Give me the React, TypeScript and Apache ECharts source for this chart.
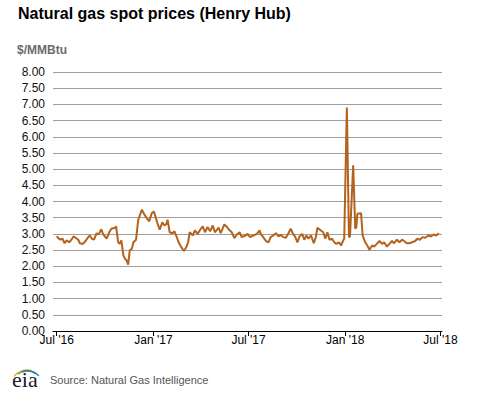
import React, { useEffect, useRef } from "react";
import * as echarts from "echarts";

const dates = [
  "2016-07-01","2016-07-04","2016-07-08","2016-07-12","2016-07-16","2016-07-20","2016-07-25","2016-07-29","2016-08-02","2016-08-06",
  "2016-08-11","2016-08-14","2016-08-20","2016-08-25","2016-08-30","2016-09-02","2016-09-06","2016-09-10","2016-09-15","2016-09-18",
  "2016-09-21","2016-09-24","2016-09-27","2016-10-04","2016-10-09","2016-10-13","2016-10-20","2016-10-22","2016-10-26","2016-10-29",
  "2016-11-01","2016-11-05","2016-11-08","2016-11-11","2016-11-14","2016-11-17","2016-11-21","2016-11-24","2016-11-29","2016-12-03",
  "2016-12-10","2016-12-14","2016-12-20","2016-12-24","2016-12-29","2017-01-02","2017-01-09","2017-01-13","2017-01-18","2017-01-22",
  "2017-01-26","2017-01-28","2017-02-01","2017-02-06","2017-02-10","2017-02-14","2017-02-18","2017-02-23","2017-02-28","2017-03-04",
  "2017-03-08","2017-03-11","2017-03-17","2017-03-21","2017-03-26","2017-03-31","2017-04-05","2017-04-09","2017-04-14","2017-04-19",
  "2017-04-24","2017-04-28","2017-05-05","2017-05-09","2017-05-16","2017-05-21","2017-05-26","2017-05-30","2017-06-04","2017-06-09",
  "2017-06-14","2017-06-18","2017-06-25","2017-06-29","2017-07-04","2017-07-10","2017-07-17","2017-07-22","2017-07-24","2017-07-29",
  "2017-08-03","2017-08-08","2017-08-12","2017-08-17","2017-08-22","2017-08-27","2017-08-31","2017-09-05","2017-09-10","2017-09-15",
  "2017-09-19","2017-09-23","2017-09-28","2017-10-02","2017-10-06","2017-10-11","2017-10-15","2017-10-19","2017-10-23","2017-10-28",
  "2017-11-02","2017-11-06","2017-11-09","2017-11-15","2017-11-20","2017-11-24","2017-11-28","2017-12-02","2017-12-07","2017-12-11",
  "2017-12-15","2017-12-20","2017-12-24","2017-12-28","2017-12-30","2018-01-04","2018-01-08","2018-01-10","2018-01-16","2018-01-20",
  "2018-01-22","2018-01-24","2018-01-31","2018-02-03","2018-02-08","2018-02-13","2018-02-16","2018-02-21","2018-02-25","2018-03-02",
  "2018-03-07","2018-03-12","2018-03-16","2018-03-21","2018-03-26","2018-03-31","2018-04-04","2018-04-09","2018-04-14","2018-04-19",
  "2018-04-23","2018-04-28","2018-05-03","2018-05-08","2018-05-14","2018-05-18","2018-05-23","2018-05-28","2018-06-02","2018-06-08",
  "2018-06-13","2018-06-18","2018-06-23","2018-06-28"
];

const prices = [
  2.93, 2.87, 2.82, 2.85, 2.71, 2.80, 2.74, 2.82, 2.92, 2.88,
  2.82, 2.71, 2.69, 2.78, 2.90, 2.95, 2.85, 2.82, 3.02, 2.98,
  3.05, 3.14, 3.00, 2.85, 3.05, 3.16, 3.19, 3.23, 2.74, 2.69,
  2.80, 2.33, 2.23, 2.18, 2.05, 2.49, 2.54, 2.74, 2.82, 3.42,
  3.75, 3.62, 3.47, 3.39, 3.64, 3.69, 3.31, 3.13, 3.36, 3.26,
  3.31, 3.44, 3.05, 3.02, 3.08, 2.92, 2.74, 2.59, 2.47, 2.57,
  2.74, 3.05, 2.95, 3.11, 3.00, 3.13, 3.23, 3.05, 3.21, 3.08,
  3.26, 3.05, 3.19, 3.02, 3.29, 3.21, 3.11, 3.05, 2.87, 2.98,
  3.05, 2.90, 2.95, 3.00, 2.90, 2.95, 3.00, 3.11, 3.00, 2.90,
  2.78, 2.74, 2.90, 2.95, 3.02, 2.92, 2.97, 2.90, 2.88, 3.02,
  3.16, 3.02, 2.90, 2.74, 2.92, 3.00, 2.82, 2.95, 2.85, 2.95,
  2.71, 2.90, 3.19, 3.11, 3.05, 2.85, 3.05, 2.82, 2.85, 2.74,
  2.69, 2.74, 2.64, 2.80, 2.85, 6.90, 2.90, 2.92, 5.12, 3.16,
  3.20, 3.62, 3.64, 2.95, 2.74, 2.61, 2.51, 2.64, 2.61, 2.69,
  2.78, 2.69, 2.74, 2.61, 2.69, 2.78, 2.71, 2.82, 2.74, 2.82,
  2.78, 2.71, 2.71, 2.74, 2.78, 2.85, 2.82, 2.90, 2.88, 2.95,
  2.92, 2.98, 2.95, 3.02
];

const tickDates = ["2016-07-01", "2017-01-01", "2017-07-01", "2018-01-01", "2018-07-01"];
const tickLabels = ["Jul '16", "Jan '17", "Jul '17", "Jan '18", "Jul '18"];
const xRange = ["2016-06-24", "2018-07-04"];
const yMin = 0;
const yMax = 8;
const yStep = 0.5;

const ts = (s: string) => {
  const [y, m, d] = s.split("-").map(Number);
  return new Date(y, m - 1, d).getTime();
};

const FONT = "'Liberation Sans', Arial, sans-serif";

export default function App() {
  const ref = useRef<HTMLDivElement>(null);
  useEffect(() => {
    if (!ref.current) return;
    const chart = echarts.init(ref.current, null, { renderer: "svg" });
    const tickTs = tickDates.map(ts);
    chart.setOption({
      animation: false,
      backgroundColor: "#ffffff",
      textStyle: { fontFamily: FONT },
      grid: { left: 53, right: 35, top: 72, bottom: 62, containLabel: false },
      xAxis: {
        type: "value",
        min: ts(xRange[0]),
        max: ts(xRange[1]),
        axisLine: { show: true, lineStyle: { color: "#000", width: 1 } },
        axisTick: { show: true, length: 5, lineStyle: { color: "#000" }, customValues: tickTs },
        axisLabel: {
          customValues: tickTs,
          color: "#000",
          fontSize: 12,
          fontFamily: FONT,
          margin: 3,
          formatter: (v: number) => {
            const i = tickTs.indexOf(v);
            return i >= 0 ? tickLabels[i] : "";
          },
        },
        splitLine: { show: false },
      },
      yAxis: {
        type: "value",
        min: yMin,
        max: yMax,
        interval: yStep,
        axisLine: { show: false },
        axisTick: { show: false },
        axisLabel: {
          color: "#111",
          fontSize: 12,
          fontFamily: FONT,
          margin: 8,
          formatter: (v: number) => v.toFixed(2),
        },
        splitLine: { show: true, lineStyle: { color: "#9e9e9e", width: 1 } },
      },
      series: [
        {
          type: "line",
          data: dates.map((d, i) => [ts(d), prices[i]]),
          showSymbol: false,
          symbol: "none",
          lineStyle: { color: "#b5621c", width: 2 },
          itemStyle: { color: "#b5621c" },
        },
      ],
      graphic: [
        {
          type: "text",
          left: 18,
          top: 5,
          style: { text: "Natural gas spot prices (Henry Hub)", font: `bold 16px ${FONT}`, fill: "#000" },
        },
        {
          type: "text",
          left: 17,
          top: 44,
          style: { text: "$/MMBtu", font: `bold 12px ${FONT}`, fill: "#6b6b6b" },
        },
        {
          type: "text",
          left: 50,
          top: 374,
          style: { text: "Source: Natural Gas Intelligence", font: `11px ${FONT}`, fill: "#555" },
        },
        {
          type: "text",
          left: 12,
          top: 368,
          style: { text: "eia", font: `22px 'Liberation Serif', 'DejaVu Serif', serif`, fill: "#1a1a2e" },
        },
        {
          type: "arc",
          shape: { cx: 27, cy: 386, r: 16, startAngle: -2.5, endAngle: -1.3 },
          style: { stroke: "#f2a81d", lineWidth: 1.5, fill: "none" },
        },
        {
          type: "arc",
          shape: { cx: 27, cy: 387, r: 16, startAngle: -2.2, endAngle: -1.0 },
          style: { stroke: "#6db33f", lineWidth: 1.5, fill: "none" },
        },
        {
          type: "arc",
          shape: { cx: 27, cy: 388, r: 17, startAngle: -1.9, endAngle: -0.8 },
          style: { stroke: "#2a7bbf", lineWidth: 1.5, fill: "none" },
        },
      ],
    });
    return () => chart.dispose();
  }, []);
  return (
    <div
      ref={ref}
      style={{ position: "absolute", left: 0, top: 0, width: 477, height: 393, background: "#fff" }}
    />
  );
}
